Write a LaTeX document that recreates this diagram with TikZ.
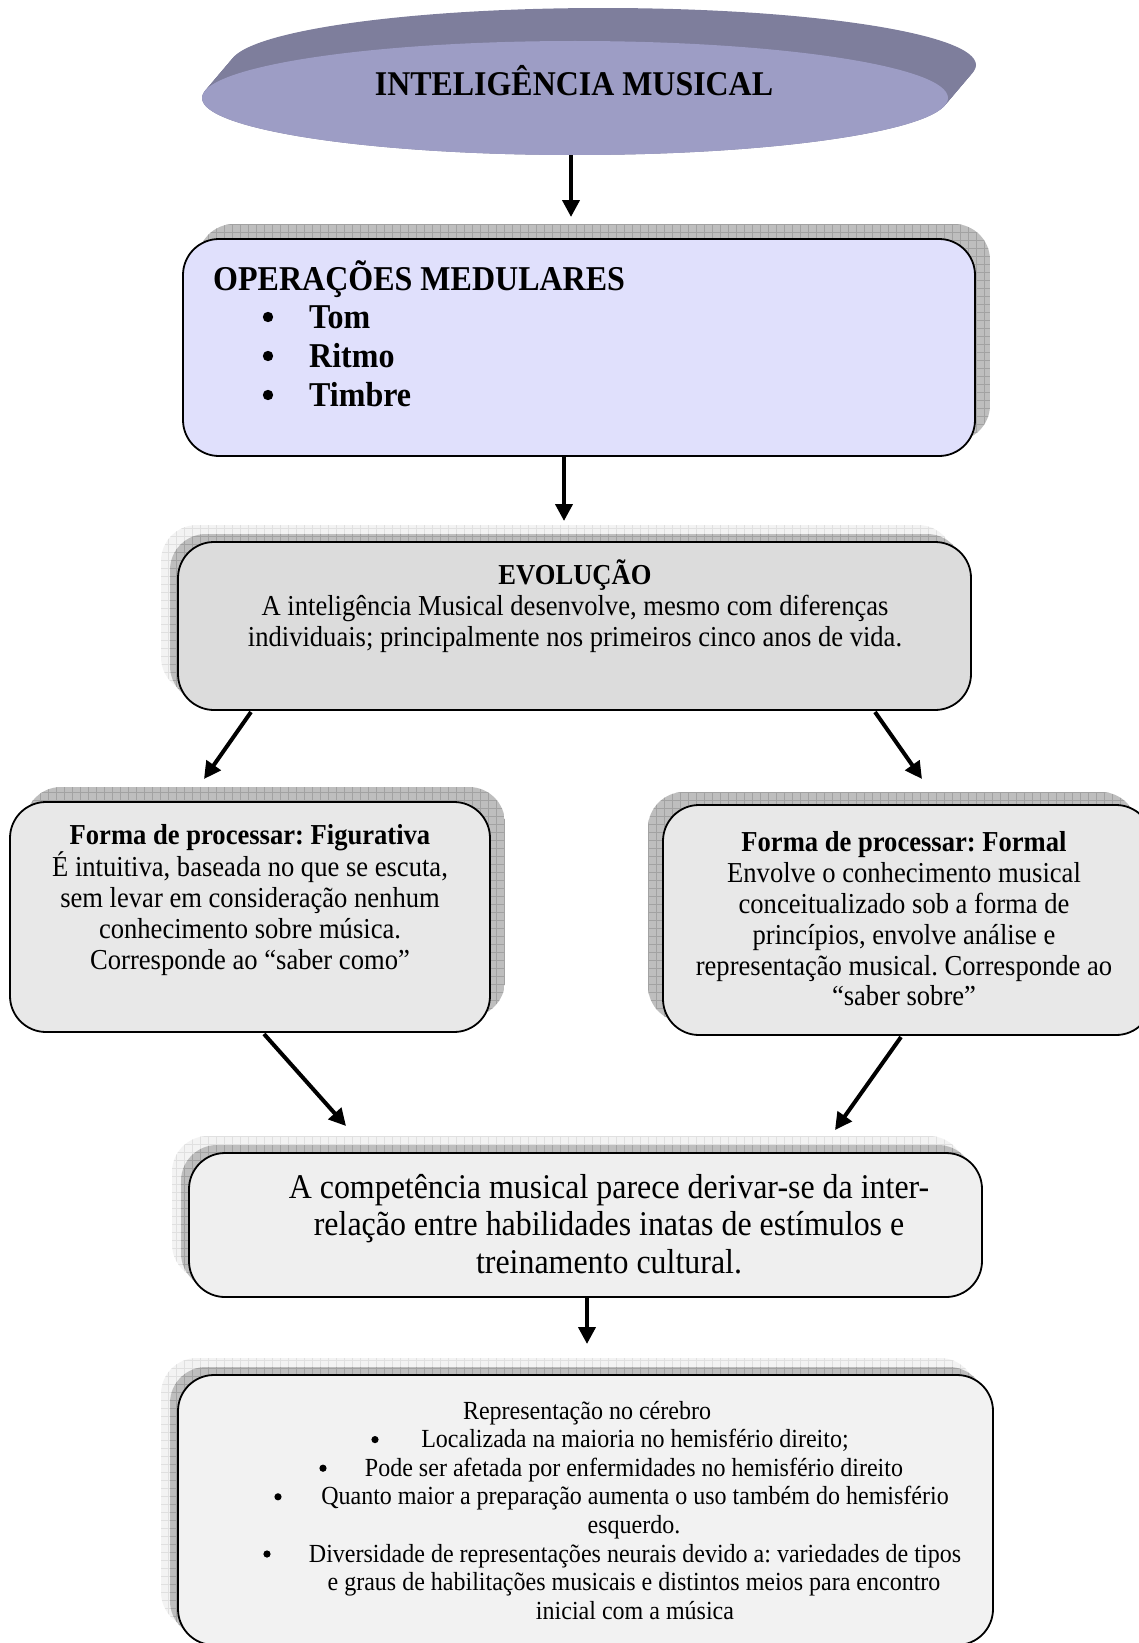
\documentclass[tikz,border=0pt]{standalone}
\usepackage{fontspec}
\setmainfont{Liberation Serif}[FakeStretch=0.92]
\usetikzlibrary{arrows.meta,shapes.geometric}
\frenchspacing

\definecolor{discface}{HTML}{9D9DC5}
\definecolor{discside}{HTML}{7E7E9C}
\definecolor{opsfill}{HTML}{E0E0FC}
\definecolor{evofill}{HTML}{DCDCDC}
\definecolor{procfill}{HTML}{E8E8E8}
\definecolor{compfill}{HTML}{EFEFEF}
\definecolor{repfill}{HTML}{F2F2F2}
\definecolor{shadefill}{HTML}{BEBEBE}
\definecolor{shadeline}{HTML}{A2A2A2}
\definecolor{halofill}{HTML}{F3F3F3}
\definecolor{haloline}{HTML}{E0E0E0}

% hatched drop shadow: x1,y1,x2,y2,fill colour,grid colour
\newcommand\gridpanel[6]{%
  \begin{scope}
    \clip[rounded corners=36pt] (#1,#2) rectangle (#3,#4);
    \fill[#5] (#1,#2) rectangle (#3,#4);
    \foreach \gx in {0,8,...,1160} \draw[#6,line width=0.7pt] (\gx,#2) -- (\gx,#4);
    \foreach \gy in {0,8,...,1660} \draw[#6,line width=0.7pt] (#1,\gy) -- (#3,\gy);
  \end{scope}}

\tikzset{
  panel/.style={draw=black, line width=1.8pt, rounded corners=36pt, inner sep=0pt},
  arr/.style={line width=4pt, -{Triangle[length=17pt,width=17pt]}},
  body/.style={align=center, inner sep=0pt, font=\fontsize{28.9}{30.8}\selectfont},
  small/.style={anchor=base, inner sep=0pt, font=\fontsize{26.1}{28.6}\selectfont},
  bigbold/.style={anchor=base west, inner sep=0pt, font=\bfseries\fontsize{34.8}{39}\selectfont},
}

\begin{document}
\begin{tikzpicture}[x=1pt,y=-1pt]
\useasboundingbox (0,0) rectangle (1139,1643);

% --- title disc ---
\foreach \t in {0,0.04,...,1.0}
  \fill[discside] (575+28*\t,98-33*\t) ellipse [x radius=373, y radius=57];
\node[ellipse, fill=discface, minimum width=746pt, minimum height=114pt, inner sep=0pt] (disc) at (575,98) {};
\node[anchor=base, inner sep=0pt, font=\bfseries\fontsize{34.7}{40}\selectfont] (title) at (574,96) {INTELIGÊNCIA MUSICAL};

% --- shadows ---
\gridpanel{198}{224}{990}{441}{shadefill}{shadeline}
\gridpanel{161}{525}{954}{693}{halofill}{haloline}
\gridpanel{170}{534}{963}{702}{shadefill}{shadeline}
\gridpanel{25}{787}{505}{1017}{shadefill}{shadeline}
\gridpanel{648}{792}{1137}{1022}{shadefill}{shadeline}
\gridpanel{172}{1136}{965}{1280}{halofill}{haloline}
\gridpanel{181}{1145}{974}{1289}{shadefill}{shadeline}
\gridpanel{161}{1358}{976}{1628}{halofill}{haloline}
\gridpanel{170}{1367}{985}{1637}{shadefill}{shadeline}

% --- boxes ---
\node[panel, fill=opsfill,  minimum width=792pt, minimum height=217pt] (ops)  at (579,347.5) {};
\node[panel, fill=evofill,  minimum width=793pt, minimum height=168pt] (evo)  at (574.5,626) {};
\node[panel, fill=procfill, minimum width=480pt, minimum height=230pt] (fig)  at (250,917) {};
\node[panel, fill=procfill, minimum width=489pt, minimum height=230pt] (form) at (907.5,920) {};
\node[panel, fill=compfill, minimum width=793pt, minimum height=144pt] (comp) at (585.5,1225) {};
\node[panel, fill=repfill,  minimum width=815pt, minimum height=270pt] (rep)  at (585.5,1510) {};

% --- operações medulares ---
\node[bigbold] (opshead) at (213,290) {OPERAÇÕES MEDULARES};
\node[bigbold] (tom)    at (309,328) {Tom};
\node[bigbold] (ritmo)  at (309,367) {Ritmo};
\node[bigbold] (timbre) at (309,406) {Timbre};
\foreach \by in {328,367,406} \fill (268,\by-11) circle (5.2);

% --- evolução ---
\node[body] (evotext) at (575,606) {\textbf{EVOLUÇÃO}\\
A inteligência Musical desenvolve, mesmo com diferenças\\
individuais; principalmente nos primeiros cinco anos de vida.};

% --- forms of processing ---
\node[body] (figtext) at (250,900) {\textbf{Forma de processar: Figurativa}\\
É intuitiva, baseada no que se escuta,\\
sem levar em consideração nenhum\\
conhecimento sobre música.\\
Corresponde ao “saber como”};
\node[body] (formtext) at (904,919) {\textbf{Forma de processar: Formal}\\
Envolve o conhecimento musical\\
conceitualizado sob a forma de\\
princípios, envolve análise e\\
representação musical. Corresponde ao\\
“saber sobre”};

% --- competência ---
\node[body, font=\fontsize{34.7}{37.2}\selectfont] (comptext) at (609,1224) {A competência musical parece derivar-se da inter-\\
relação entre habilidades inatas de estímulos e\\
treinamento cultural.};

% --- representação no cérebro ---
\node[small] (rep0) at (587,1419) {Representação no cérebro};
\node[small] (rep1) at (635,1447.6) {Localizada na maioria no hemisfério direito;};
\node[small] (rep2) at (634,1476.2) {Pode ser afetada por enfermidades no hemisfério direito};
\node[small] (rep3) at (635,1504.8) {Quanto maior a preparação aumenta o uso também do hemisfério};
\node[small] (rep4) at (634,1533.4) {esquerdo.};
\node[small] (rep5) at (635,1562) {Diversidade de representações neurais devido a: variedades de tipos};
\node[small] (rep6) at (634,1590.6) {e graus de habilitações musicais e distintos meios para encontro};
\node[small] (rep7) at (635,1619.2) {inicial com a música};
\fill (375,1447.6-8) circle (3.6);
\fill (323,1476.2-8) circle (3.6);
\fill (278,1504.8-8) circle (3.6);
\fill (267,1562-8) circle (3.6);

% --- connectors ---
\coordinate (a1e) at (571,217);
\coordinate (a2e) at (564,521);
\coordinate (a3s) at (251,712); \coordinate (a3e) at (204,779);
\coordinate (a4s) at (875,712); \coordinate (a4e) at (922,779);
\coordinate (a5s) at (264,1034); \coordinate (a5e) at (346,1126);
\coordinate (a6s) at (901,1037); \coordinate (a6e) at (835,1130);
\coordinate (a7e) at (587,1344);
\draw[arr] (disc.south -| a1e) -- (a1e);
\draw[arr] (ops.south -| a2e) -- (a2e);
\draw[arr] (a3s) -- (a3e);
\draw[arr] (a4s) -- (a4e);
\draw[arr] (a5s) -- (a5e);
\draw[arr] (a6s) -- (a6e);
\draw[arr] (comp.south -| a7e) -- (a7e);
\end{tikzpicture}
\end{document}
